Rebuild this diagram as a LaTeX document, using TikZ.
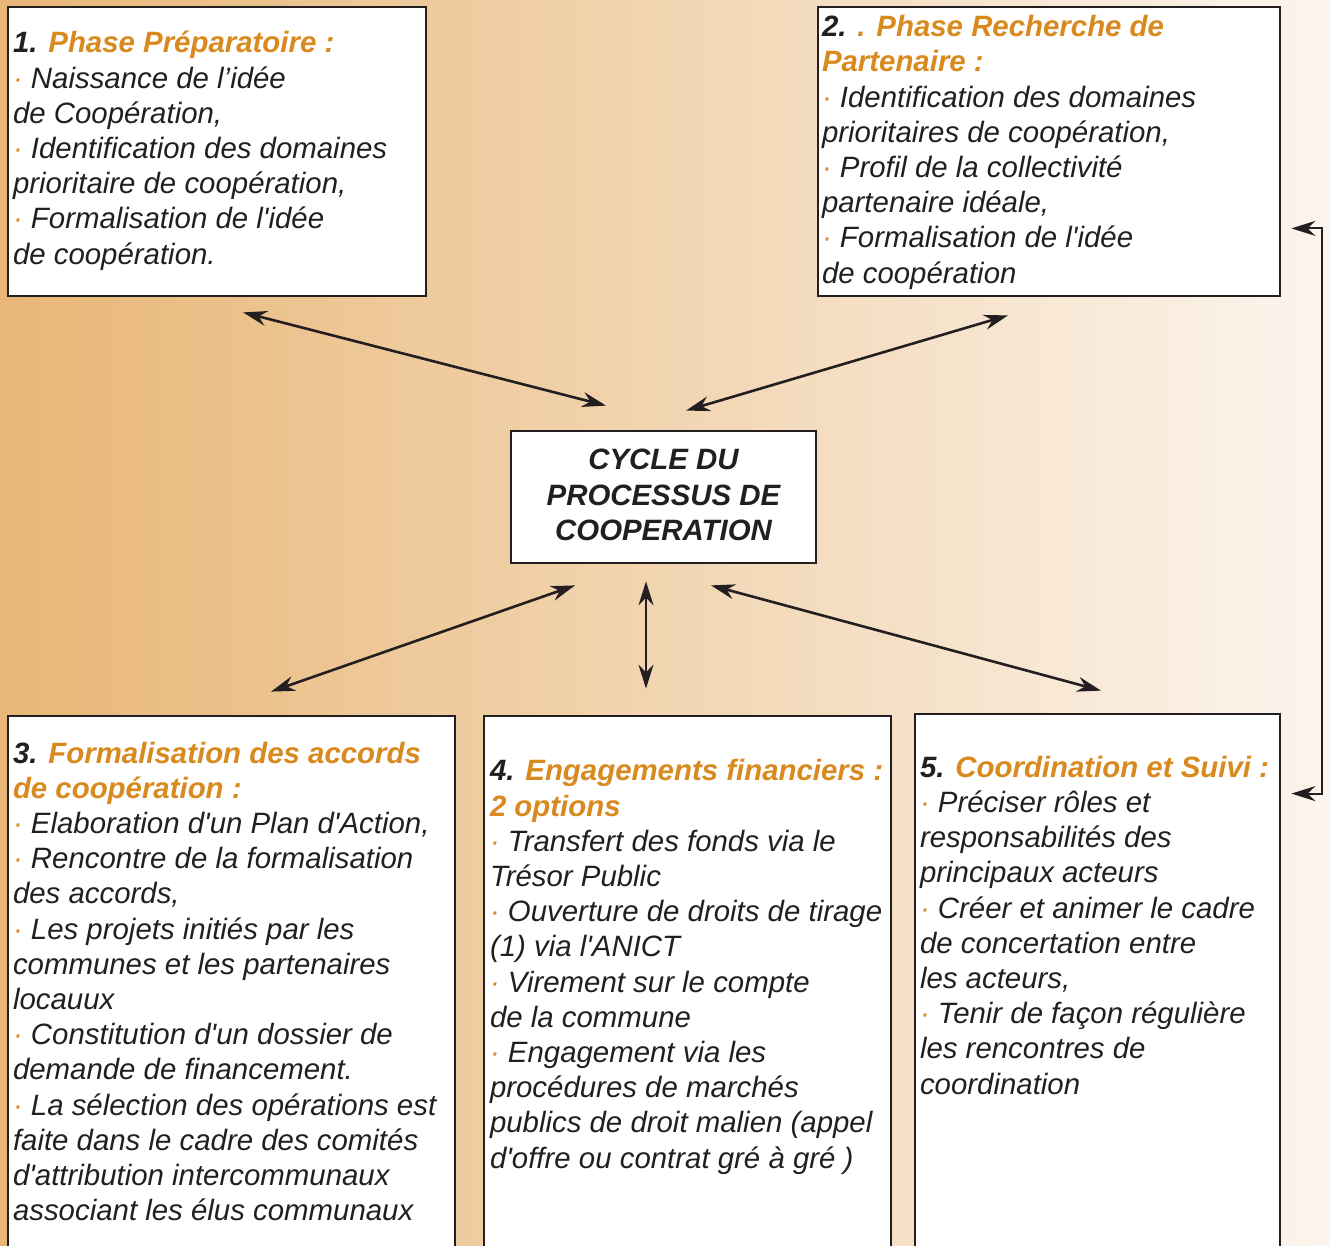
\documentclass[tikz,border=0pt]{standalone}
\usepackage{fontspec}
\setmainfont{Liberation Sans}[Ligatures=TeXOff]
\usetikzlibrary{arrows.meta,fit}
\definecolor{fondgauche}{HTML}{E8B676}
\definecolor{fonddroite}{HTML}{FCF5EE}
\definecolor{titreorange}{HTML}{D98A1E}
\definecolor{encre}{HTML}{231F20}
\tikzset{
  cadre/.style={draw=encre, line width=1.4pt, fill=white, inner sep=0pt},
  texte/.style={inner sep=0pt, align=left, text=encre, font=\fontsize{14.7}{17.6}\selectfont\itshape},
  fleche/.style={line width=1.3pt, draw=encre, {Stealth[length=12pt,width=7.5pt]}-{Stealth[length=12pt,width=7.5pt]}},
}
\newcommand{\puce}{{\color{titreorange}·} }
\newcommand{\orange}[1]{{\bfseries\color{titreorange}#1}}

\begin{document}
\begin{tikzpicture}[x=0.5pt,y=-0.5pt]
	\useasboundingbox (0,0) rectangle (1330,1246);
	\fill[left color=fondgauche, right color=fonddroite] (0,0) rectangle (1330,1246);

	% cadres
	\node[cadre, fit={(8,7) (426,296)}] (p1) {};
	\node[cadre, fit={(818,7) (1280,296)}] (p2) {};
	\node[cadre, fit={(511,431) (816,563)}] (cycle) {};
	\node[cadre, fit={(8,716) (455,1270)}] (p3) {};
	\node[cadre, fit={(484,716) (891,1270)}] (p4) {};
	\node[cadre, fit={(915,714) (1280,1270)}] (p5) {};

	\node[texte, align=center, font=\fontsize{14.7}{17.6}\selectfont\bfseries\itshape] (ct) at ([yshift=1pt]cycle.center) {CYCLE DU\\PROCESSUS DE\\COOPERATION};

	% texte ancre sur la derniere ligne
	\node[texte, anchor=base west] (t1) at ([shift={(6,258.5)}]p1.north west) {\textbf{1.} \orange{Phase Préparatoire :}\\
		\puce Naissance de l’idée\\
		de Coopération,\\
		\puce Identification des domaines\\
		prioritaire de coopération,\\
		\puce Formalisation de l'idée\\
		de coopération.};

	\node[texte, anchor=base west] (t2) at ([shift={(5,277.5)}]p2.north west) {\textbf{2.} \orange{. Phase Recherche de}\\
		\orange{Partenaire :}\\
		\puce Identification des domaines\\
		prioritaires de coopération,\\
		\puce Profil de la collectivité\\
		partenaire idéale,\\
		\puce Formalisation de l'idée\\
		de coopération};

	\node[texte, anchor=base west] (t3) at ([shift={(6,506)}]p3.north west) {\textbf{3.} \orange{Formalisation des accords}\\
		\orange{de coopération :}\\
		\puce Elaboration d'un Plan d'Action,\\
		\puce Rencontre de la formalisation\\
		des accords,\\
		\puce Les projets initiés par les\\
		communes et les partenaires\\
		locauux\\
		\puce Constitution d'un dossier de\\
		demande de financement.\\
		\puce La sélection des opérations est\\
		faite dans le cadre des comités\\
		d'attribution intercommunaux\\
		associant les élus communaux};

	\node[texte, anchor=base west] (t4) at ([shift={(7,453.5)}]p4.north west) {\textbf{4.} \orange{Engagements financiers :}\\
		\orange{2 options}\\
		\puce Transfert des fonds via le\\
		Trésor Public\\
		\puce Ouverture de droits de tirage\\
		(1) via l'ANICT\\
		\puce Virement sur le compte\\
		de la commune\\
		\puce Engagement via les\\
		procédures de marchés\\
		publics de droit malien (appel\\
		d'offre ou contrat gré à gré )};

	\node[texte, anchor=base west] (t5) at ([shift={(6,381.5)}]p5.north west) {\textbf{5.} \orange{Coordination et Suivi :}\\
		\puce Préciser rôles et\\
		responsabilités des\\
		principaux acteurs\\
		\puce Créer et animer le cadre\\
		de concertation entre\\
		les acteurs,\\
		\puce Tenir de façon régulière\\
		les rencontres de\\
		coordination};

	% fleches
	\draw[fleche] ([shift={(26,15)}]p1.south) -- ([shift={(-57.5,-24)}]cycle.north);
	\draw[fleche] ([shift={(-41,18)}]p2.south) -- ([shift={(22.5,-19)}]cycle.north);
	\draw[fleche] ([shift={(-88.5,21)}]cycle.south) -- ([shift={(39.5,-23)}]p3.north);
	\draw[fleche] ([shift={(-17.5,17)}]cycle.south) -- ([shift={(-41.5,-26)}]p4.north);
	\draw[fleche] ([shift={(47.5,21)}]cycle.south) -- ([shift={(3.5,-22)}]p5.north);
	\draw[fleche, line width=1pt] ([shift={(10,-69)}]p2.south east) -- ++(31,0) |- ([shift={(10,81)}]p5.north east);
\end{tikzpicture}
\end{document}
